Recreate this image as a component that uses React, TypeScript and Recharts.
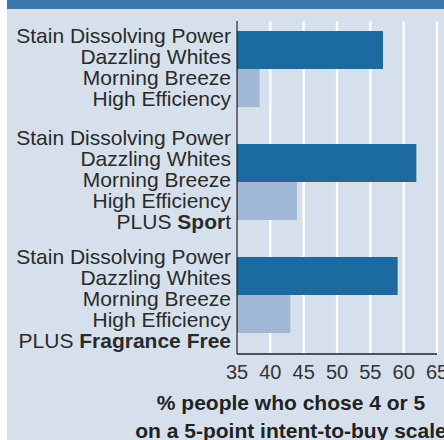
import { BarChart, Bar, XAxis, YAxis, CartesianGrid, Label } from 'recharts'

// product variants, each labelled with the shared benefit lines + an optional "PLUS" line
const variants = ['Base', 'Sport', 'Fragrance Free']
const benefitLines = ['Stain Dissolving Power', 'Dazzling Whites', 'Morning Breeze', 'High Efficiency']
const plusParts: [string, boolean][][] = [
  [],
  [['Spor', true], ['t', false]],
  [['Fragrance Free', true]],
]

// % people who chose 4 or 5
const darkValues = [56.9, 61.9, 59.1]
const lightValues = [38.4, 44, 43]

const xTicks = [35, 40, 45, 50, 55, 60, 65]
const titleLines = ['% people who chose 4 or 5', 'on a 5-point intent-to-buy scale']

const data = variants.map((name, i) => ({
  name,
  dark: darkValues[i],
  light: lightValues[i],
}))

const textColor = '#2a2a2a'

function VariantTick(props: any) {
  const { x, y, payload } = props
  const i = variants.indexOf(payload.value)
  const extra = plusParts[i]
  const n = benefitLines.length + (extra.length ? 1 : 0)
  const nudge = [-1.6, -1.8, 3.8][i] || 0
  const lineY = (k: number) => y + nudge + (k - (n - 1) / 2) * 21
  return (
    <text x={x} y={y} textAnchor="end" fill={textColor} fontSize={21}>
      {benefitLines.map((l, k) => (
        <tspan key={k} x={x} y={lineY(k)} dy="0.36em">
          {l}
        </tspan>
      ))}
      {extra.length > 0 && (
        <tspan x={x} y={lineY(n - 1)} dy="0.36em">
          {'PLUS '}
          {extra.map(([s, b], k) => (
            <tspan key={k} fontWeight={b ? 'bold' : 'normal'}>
              {s}
            </tspan>
          ))}
        </tspan>
      )}
    </text>
  )
}

function AxisTitle() {
  return (
    <g>
      {titleLines.map((l, k) => (
        <text
          key={k}
          x={291}
          y={410 + k * 27.5}
          textAnchor="middle"
          fill="#222"
          fontSize={21}
          fontWeight="bold"
        >
          {l}
        </text>
      ))}
    </g>
  )
}

export default function App() {
  return (
    <div
      style={{
        position: 'absolute',
        top: 0,
        left: 0,
        width: 444,
        height: 440,
        background: '#fff',
        overflow: 'hidden',
        fontFamily: '"Liberation Sans", Arial, sans-serif',
      }}
    >
      <div style={{ position: 'absolute', left: 7, top: 0, width: 437, height: 440, background: '#d6e0ec' }} />
      <div style={{ position: 'absolute', left: 7, top: 0, width: 437, height: 9, background: '#3b76aa' }} />
      <div style={{ position: 'absolute', left: 0, top: 0 }}>
        <BarChart
          width={444}
          height={440}
          data={data}
          layout="vertical"
          margin={{ top: 21, right: 7, bottom: 0, left: 0 }}
          barGap={0}
          barSize={38}
        >
          <CartesianGrid horizontal={false} stroke="#ffffff" strokeWidth={2.2} />
          <XAxis
            type="number"
            domain={[35, 65]}
            ticks={xTicks}
            interval={0}
            allowDataOverflow
            height={86}
            tickLine={false}
            tickMargin={5}
            axisLine={{ stroke: '#222', strokeWidth: 1.3 }}
            tick={{ fill: '#333', fontSize: 20 }}
          >
            <Label content={() => <AxisTitle />} />
          </XAxis>
          <YAxis
            type="category"
            dataKey="name"
            width={237}
            interval={0}
            tickLine={false}
            tickSize={0}
            tickMargin={6}
            padding={{ top: -9, bottom: 3 }}
            axisLine={{ stroke: '#222', strokeWidth: 1.3 }}
            tick={<VariantTick />}
          />
          <Bar dataKey="dark" fill="#1b6aa0" isAnimationActive={false} />
          <Bar dataKey="light" fill="#a0b8d6" isAnimationActive={false} />
        </BarChart>
      </div>
    </div>
  )
}
